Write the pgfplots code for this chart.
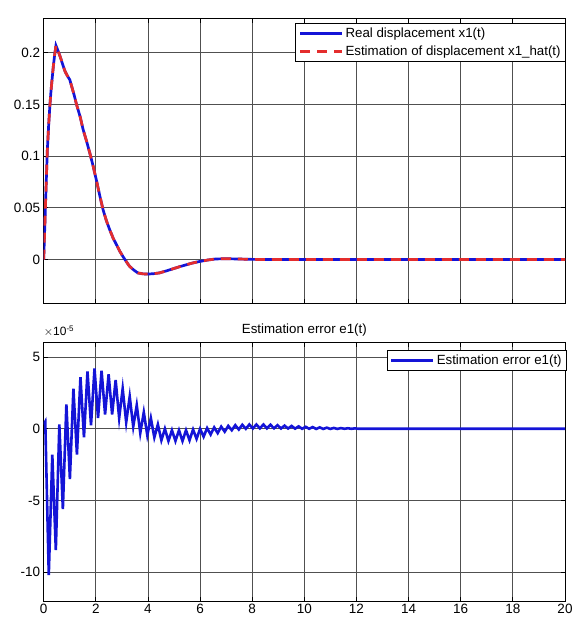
\documentclass[border=0pt]{standalone}
\usepackage{fontspec}
\setmainfont{Liberation Sans}
\usepackage{pgfplots}
\pgfplotsset{compat=1.18}
\definecolor{mblue}{RGB}{20,20,215}
\definecolor{mred}{RGB}{228,45,45}
\definecolor{mgrid}{RGB}{80,80,80}
\pgfplotsset{
  myaxis/.style={
    scale only axis, anchor=south west,
    xmin=0, xmax=20,
    xtick={0,2,...,20},
    tick align=inside, major tick length=4pt,
    grid=major, major grid style={mgrid, line width=0.8pt},
    axis line style={black, line width=0.8pt},
    tick style={black, line width=0.8pt},
    ticklabel style={font=\fontsize{13.5}{15}\selectfont},
    /pgf/number format/assume math mode=true,
    legend cell align=left,
    legend style={font=\fontsize{13.3}{15}\selectfont, draw=black, line width=0.8pt, inner xsep=3pt, inner ysep=2.5pt, row sep=3pt},
    legend image code/.code={\draw[##1, line width=2.8pt] (0pt,0pt) -- (42pt,0pt);},
  }
}
\begin{document}
\begin{tikzpicture}[x=1pt,y=1pt]
\useasboundingbox (0,0) rectangle (573,626);
\begin{axis}[myaxis, at={(43.7pt,323pt)}, width=521.3pt, height=284.3pt,
  ymin=-0.042, ymax=0.233,
  xticklabels={},
  ytick={0,0.05,0.1,0.15,0.2},
  yticklabels={0,0.05,0.1,0.15,0.2},
  legend style={at={(1.002,0.985)}, anchor=north east}]
\addplot[mblue, line width=2.7pt] coordinates {
(0,0) (0.05,0.038) (0.1,0.077) (0.14,0.106) (0.19,0.13) (0.24,0.15) (0.28,0.163) (0.32,0.174) (0.37,0.187) (0.42,0.198) (0.47,0.207)
(0.55,0.202) (0.65,0.195) (0.75,0.187) (0.82,0.182) (0.88,0.179) (0.95,0.176) (1.0,0.174) (1.08,0.167) (1.17,0.159) (1.26,0.15) (1.4,0.138) (1.51,0.126)
(1.65,0.114) (1.77,0.103) (1.9,0.09) (2.02,0.077) (2.15,0.062) (2.28,0.048) (2.4,0.038) (2.53,0.029) (2.66,0.021) (2.79,0.0145)
(2.92,0.008) (3.04,0.003) (3.17,-0.002) (3.29,-0.0064) (3.45,-0.010) (3.61,-0.0129) (3.8,-0.0138) (3.99,-0.014) (4.2,-0.0137)
(4.44,-0.0129) (4.7,-0.011) (4.95,-0.009) (5.2,-0.007) (5.46,-0.0051) (5.7,-0.0034) (5.97,-0.0019) (6.3,-0.0004) (6.6,0.0006)
(7.0,0.0008) (7.4,0.0006) (8,0.0002) (9,0) (20,0)};
\addlegendentry{Real displacement x1(t)}
\addplot[mred, line width=2.7pt, dash pattern=on 10pt off 7pt] coordinates {
(0,0) (0.05,0.038) (0.1,0.077) (0.14,0.106) (0.19,0.13) (0.24,0.15) (0.28,0.163) (0.32,0.174) (0.37,0.187) (0.42,0.198) (0.47,0.207)
(0.55,0.202) (0.65,0.195) (0.75,0.187) (0.82,0.182) (0.88,0.179) (0.95,0.176) (1.0,0.174) (1.08,0.167) (1.17,0.159) (1.26,0.15) (1.4,0.138) (1.51,0.126)
(1.65,0.114) (1.77,0.103) (1.9,0.09) (2.02,0.077) (2.15,0.062) (2.28,0.048) (2.4,0.038) (2.53,0.029) (2.66,0.021) (2.79,0.0145)
(2.92,0.008) (3.04,0.003) (3.17,-0.002) (3.29,-0.0064) (3.45,-0.010) (3.61,-0.0129) (3.8,-0.0138) (3.99,-0.014) (4.2,-0.0137)
(4.44,-0.0129) (4.7,-0.011) (4.95,-0.009) (5.2,-0.007) (5.46,-0.0051) (5.7,-0.0034) (5.97,-0.0019) (6.3,-0.0004) (6.6,0.0006)
(7.0,0.0008) (7.4,0.0006) (8,0.0002) (9,0) (20,0)};
\addlegendentry{Estimation of displacement x1\_hat(t)}
\end{axis}
\begin{axis}[myaxis, at={(43.7pt,25pt)}, width=521.3pt, height=258.3pt,
  ymin=-12, ymax=6,
  xticklabels={0,2,4,6,8,10,12,14,16,18,20},
  ytick={-10,-5,0,5},
  yticklabels={-10,-5,0,5},
  title={Estimation error e1(t)},
  title style={font=\fontsize{13.3}{15}\selectfont, yshift=-3pt},
  legend style={at={(1.004,0.972)}, anchor=north east}]
\addplot[mblue, line width=2.6pt] coordinates {
(0,0.3) (0.06,0.5) (0.195,-10.2) (0.33,-1.8) (0.465,-8.45) (0.60,0.3) (0.735,-5.6) (0.87,1.7) (1.005,-3.5)
(1.14,2.8) (1.275,-1.8) (1.41,3.6) (1.545,-0.6) (1.68,4.0) (1.815,0.25) (1.95,4.2) (2.085,0.75)
(2.22,4.05) (2.355,1.0) (2.49,3.8) (2.625,1.0) (2.76,3.4) (2.895,0.75) (3.03,2.8) (3.165,0.45)
(3.30,2.25) (3.435,0.15) (3.57,1.65) (3.705,-0.3) (3.84,1.15) (3.975,-0.45) (4.11,0.75) (4.245,-0.6)
(4.38,0.3) (4.515,-0.8) (4.65,0.0) (4.785,-0.85) (4.92,-0.1) (5.055,-0.85) (5.19,-0.1) (5.325,-0.85)
(5.46,-0.1) (5.595,-0.8) (5.73,-0.05) (5.865,-0.7) (6.00,0.0) (6.135,-0.55) (6.27,0.05) (6.405,-0.4)
(6.54,0.1) (6.675,-0.3) (6.81,0.15) (6.945,-0.2) (7.08,0.2) (7.215,-0.1) (7.35,0.25) (7.485,-0.05)
(7.62,0.28) (7.755,0.0) (7.89,0.3) (8.025,0.02) (8.16,0.3) (8.295,0.03) (8.43,0.3) (8.565,0.03)
(8.70,0.28) (8.835,0.03) (8.97,0.25) (9.105,0.02) (9.24,0.22) (9.375,0.02) (9.51,0.2) (9.645,0.01)
(9.78,0.17) (9.915,0.0) (10.05,0.14) (10.185,0.0) (10.32,0.12) (10.455,-0.01) (10.59,0.1) (10.725,-0.01)
(10.86,0.08) (10.995,-0.01) (11.13,0.06) (11.265,-0.01) (11.40,0.05) (11.535,0.0) (11.67,0.04) (11.805,0.0)
(11.94,0.03) (12.075,0.0) (12.5,0.0) (20,0.0)};
\addlegendentry{Estimation error e1(t)}
\end{axis}
\node[anchor=south west, inner sep=0pt, font=\fontsize{12}{14}\selectfont] at (43.7pt,289pt) {$\times$10\textsuperscript{-5}};
\end{tikzpicture}
\end{document}
